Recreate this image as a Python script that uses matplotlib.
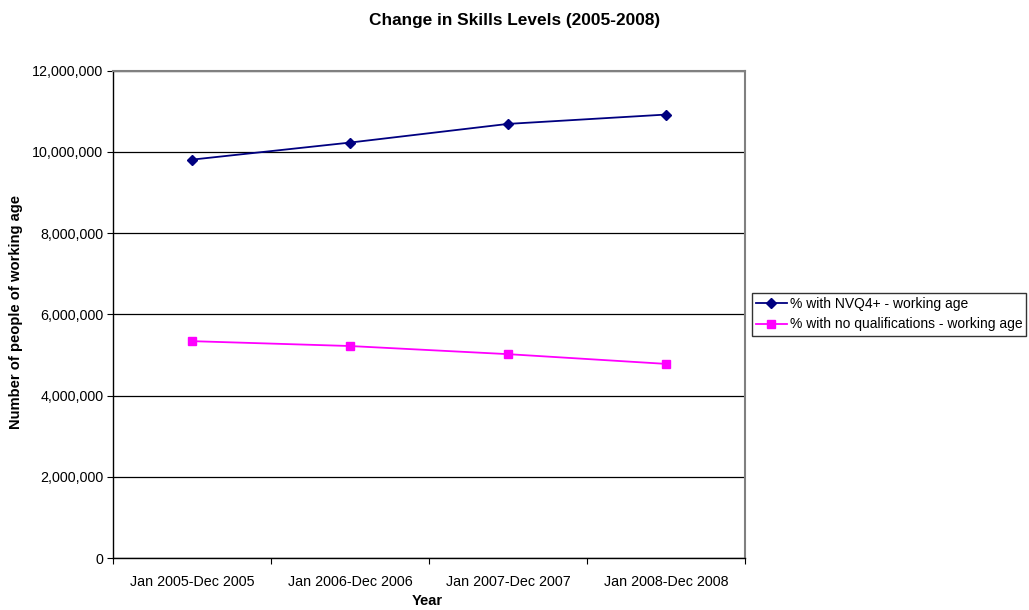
import matplotlib
matplotlib.use("Agg")
import matplotlib.pyplot as plt
from matplotlib.ticker import FuncFormatter, FixedLocator
import numpy as np

plt.rcParams['font.family'] = ['Liberation Sans', 'DejaVu Sans']

categories = ["Jan 2005-Dec 2005", "Jan 2006-Dec 2006", "Jan 2007-Dec 2007", "Jan 2008-Dec 2008"]
nvq4 = [9810000, 10230000, 10690000, 10920000]
no_qual = [5340000, 5220000, 5020000, 4780000]
series_names = ["% with NVQ4+ - working age", "% with no qualifications - working age"]

W, H = 1029, 610
fig = plt.figure(figsize=(W / 100, H / 100), dpi=100)
l, r, t, b = 113, 745, 70.7, 558
ax = fig.add_axes([l / W, 1 - b / H, (r - l) / W, (b - t) / H])

x = np.arange(len(categories)) + 0.5
ax.plot(x, nvq4, color='#000080', marker='D', markersize=5, linewidth=1.3, label=series_names[0])
ax.plot(x, no_qual, color='#FF00FF', marker='s', markersize=6, linewidth=1.3, label=series_names[1])

ax.set_xlim(0, len(categories))
ax.set_ylim(0, 12000000)
ax.set_yticks(np.arange(0, 12000001, 2000000))
ax.yaxis.set_major_formatter(FuncFormatter(lambda v, p: f"{int(v):,}"))
ax.xaxis.set_major_locator(FixedLocator(np.arange(len(categories) + 1)))
ax.xaxis.set_minor_locator(FixedLocator(x))
ax.set_xticklabels([])
ax.set_xticklabels(categories, minor=True)
ax.tick_params(axis='x', which='minor', length=0, pad=12, labelsize=10.3)
ax.tick_params(axis='x', which='major', length=4, direction='out', color='black')
ax.tick_params(axis='y', length=4, direction='out', labelsize=10.3, pad=3)

ax.grid(axis='y', color='black', linewidth=0.9)
ax.set_axisbelow(True)
for s in ['top', 'right']:
    ax.spines[s].set_color('#808080')
    ax.spines[s].set_linewidth(1.5)
for s in ['left', 'bottom']:
    ax.spines[s].set_color('black')
    ax.spines[s].set_linewidth(1.0)

fig.text(515 / W, 1 - 20 / H, "Change in Skills Levels (2005-2008)", ha='center', va='center',
         fontsize=12.4, fontweight='bold')
fig.text(427 / W, 1 - 601 / H, "Year", ha='center', va='center', fontsize=10.5, fontweight='bold')
fig.text(16 / W, 1 - 312 / H, "Number of people of working age", ha='center', va='center',
         rotation=90, fontsize=10.6, fontweight='bold')

leg = fig.legend(loc='upper left', bbox_to_anchor=(752 / W, 1 - 293 / H), fontsize=10,
                 frameon=True, fancybox=False, edgecolor='black', borderpad=0.3,
                 handlelength=2.2, handletextpad=0.2, labelspacing=0.45, borderaxespad=0)
leg.get_frame().set_linewidth(1.0)

fig.savefig("out.png", dpi=100)
